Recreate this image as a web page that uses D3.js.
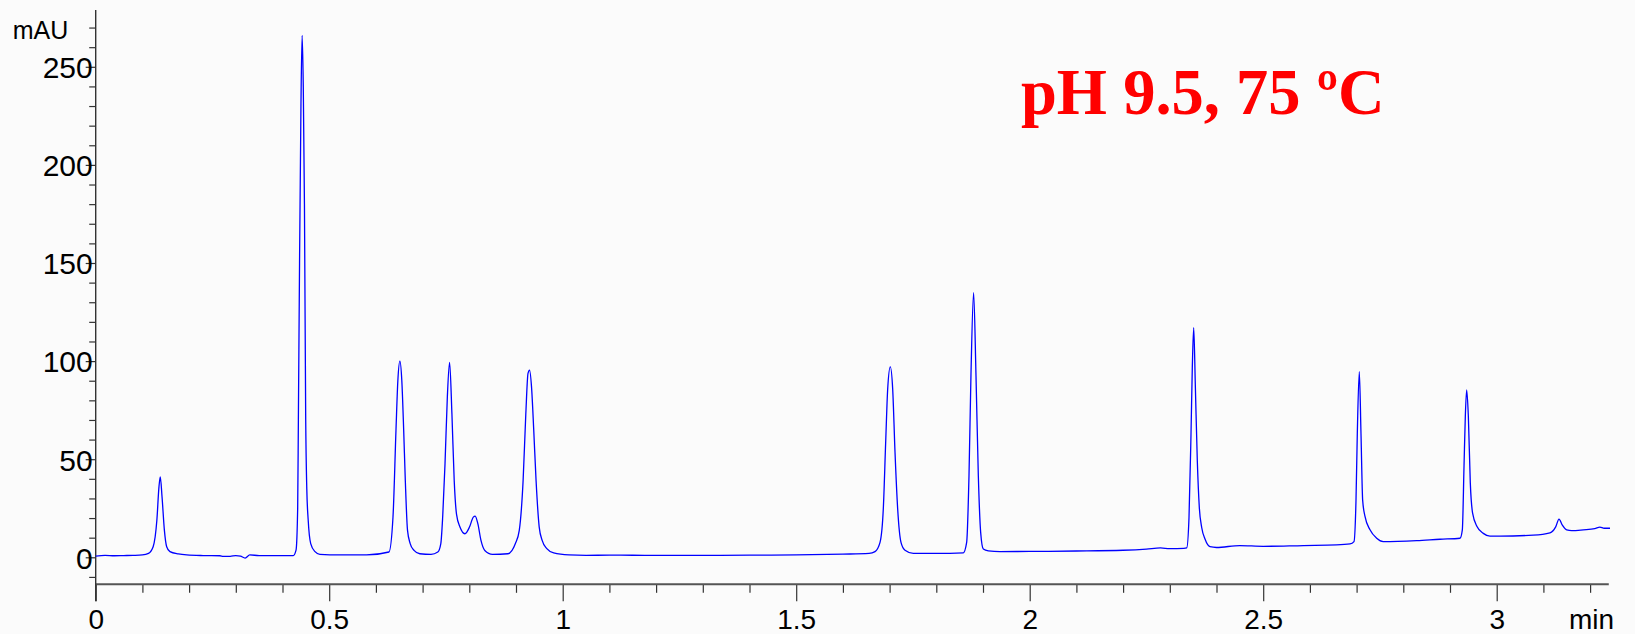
<!DOCTYPE html>
<html>
<head>
<meta charset="utf-8">
<script src="https://cdn.jsdelivr.net/npm/d3@7"></script>
<style>
  html, body { margin: 0; padding: 0; background: #fbfbfb; }
  svg { display: block; }
</style>
</head>
<body>
<script>
// ---------- data ----------
const timeMin = [
  0.000, 0.020, 0.040, 0.060, 0.080, 0.100, 0.113, 0.123, 0.131, 0.1355, 0.1383, 0.142, 0.147, 0.152, 0.159, 0.177, 0.195,
  0.230, 0.266, 0.273, 0.288, 0.300, 0.310, 0.320, 0.330, 0.350, 0.400, 0.423,
  0.429, 0.4325, 0.434, 0.4365, 0.4395, 0.442, 0.4445, 0.447, 0.4497, 0.452, 0.455, 0.4604, 0.4696, 0.480, 0.523, 0.580,
  0.628, 0.6366, 0.643, 0.647, 0.6514, 0.6555, 0.6595, 0.663, 0.6677, 0.6734, 0.6816, 0.694, 0.718,
  0.7326, 0.739, 0.743, 0.748, 0.753, 0.7578, 0.7628, 0.7677, 0.7726, 0.780, 0.7906,
  0.8004, 0.8086, 0.8126, 0.8184, 0.825, 0.8332, 0.8497, 0.8825,
  0.8987, 0.907, 0.9152, 0.921, 0.9257, 0.929, 0.9332, 0.938, 0.943, 0.9497, 0.956, 0.966, 0.9807, 1.0135,
  1.05, 1.10, 1.20, 1.30, 1.40, 1.50, 1.60, 1.656,
  1.6687, 1.6795, 1.6865, 1.6916, 1.6959, 1.7015, 1.7066, 1.7116, 1.7173, 1.7244, 1.733, 1.7507, 1.80,
  1.8578, 1.865, 1.870, 1.8742, 1.8799, 1.885, 1.890, 1.895, 1.9007, 1.9114, 1.9364,
  2.00, 2.10, 2.20, 2.25, 2.28, 2.30, 2.33, 2.3362,
  2.3411, 2.3454, 2.3482, 2.3512, 2.3546, 2.3589, 2.3632, 2.3683, 2.3754, 2.386, 2.40, 2.45, 2.50, 2.586, 2.657, 2.686,
  2.6944, 2.6987, 2.7015, 2.7058, 2.7094, 2.713, 2.718, 2.7287, 2.743, 2.757, 2.8287, 2.8786, 2.9214,
  2.9264, 2.930, 2.9328, 2.9357, 2.9393, 2.9435, 2.9484, 2.9578, 2.9713, 2.9856, 3.007, 3.078, 3.114,
  3.1263, 3.1334, 3.1406, 3.1499, 3.1606, 3.1855, 3.21, 3.221, 3.23, 3.2426
];
const signalMAU = [
  0.6, 1.0, 0.8, 0.9, 1.0, 1.2, 2.0, 5.4, 19, 36, 41, 31, 14, 5.4, 2.9, 1.7, 1.2,
  0.9, 0.8, 0.5, 0.5, 0.9, 0.6, -0.4, 1.2, 0.9, 0.9, 0.9,
  3.7, 25, 70, 150, 230, 266, 240, 180, 70, 35, 19, 7, 2.9, 1.5, 1.2, 1.2,
  2.7, 20.5, 64.8, 90, 100, 90, 64.8, 39, 13.7, 7, 3.5, 1.8, 1.5,
  2.7, 7, 20.5, 47.7, 81.8, 99.3, 73, 39, 22, 15.4, 12,
  15.4, 20.5, 21, 17, 8.6, 3.5, 1.5, 1.8,
  7, 13.7, 39, 73, 93.7, 95.4, 87, 64.8, 39, 15.4, 8.6, 4.4, 2.2, 1.2,
  1.0, 1.1, 1.0, 1.0, 1.1, 1.2, 1.6, 2.0,
  2.9, 7.6, 24.6, 58.6, 85.8, 97.1, 85.8, 53.5, 24.6, 7.6, 3.6, 2.0, 2.0,
  2.3, 7.6, 41.6, 92.6, 134.9, 92.6, 41.6, 12.7, 4.2, 3.3, 2.9,
  3.0, 3.2, 3.6, 4.2, 4.8, 4.4, 4.6, 4.8,
  20.2, 62.7, 96.7, 117, 88.2, 49.2, 25.4, 15.2, 9.3, 5.4, 5.0, 6.0, 5.6, 6.0, 6.3, 6.8,
  8, 29, 63, 94.6, 63, 29, 20.8, 14, 9.7, 8, 8.5, 9.2, 9.7,
  14, 46.3, 71.8, 85.3, 71.8, 37.8, 22.5, 15.7, 12.2, 10.8, 10.8, 11.3, 12.5,
  15.5, 19.5, 16.4, 14, 13.6, 14, 14.6, 15.4, 14.8, 14.8
];
const yMajorTicks = [0, 50, 100, 150, 200, 250];
const yMinorTicks = d3.range(-10, 271, 10).filter(v => v % 50 !== 0);
const xMajorTicks = [0, 0.5, 1, 1.5, 2, 2.5, 3];
const xTickLabels = ["0", "0.5", "1", "1.5", "2", "2.5", "3"];
const xMinorTicks = d3.range(0, 33).map(i => i / 10).filter(v => Math.abs(v * 2 - Math.round(v * 2)) > 1e-9);
const yUnit = "mAU";
const xUnit = "min";
const titleText = "pH 9.5, 75 \u00BAC";

// ---------- drawing ----------
const W = 1635, H = 634;
const svg = d3.select("body").append("svg").attr("width", W).attr("height", H);
svg.append("rect").attr("width", W).attr("height", H).attr("fill", "#fbfbfb");

const x = d3.scaleLinear().domain([0, 3.24]).range([95.7, 95.7 + 3.24 * 467]);
const y = d3.scaleLinear().domain([0, 250]).range([557.3, 66.8]);
const axisY = y(-13.76);
const yTop = y(279);
const fontSans = "'Liberation Sans', Arial, Helvetica, sans-serif";

// X axis
const gx = svg.append("g").attr("transform", `translate(0,${axisY})`);
gx.call(d3.axisBottom(x).tickValues(xMinorTicks).tickSize(8.5).tickFormat(""))
  .call(g => g.select(".domain").remove())
  .call(g => g.selectAll("line").attr("stroke", "#333").attr("stroke-width", 1.2));
const gx2 = svg.append("g").attr("transform", `translate(0,${axisY})`);
gx2.call(d3.axisBottom(x).tickValues(xMajorTicks).tickSize(17)
    .tickFormat((d, i) => xTickLabels[i]).tickPadding(10))
  .call(g => g.select(".domain").remove())
  .call(g => g.selectAll("line").attr("stroke", "#333").attr("stroke-width", 1.2))
  .call(g => g.selectAll("text").attr("font-family", fontSans).attr("font-size", 28)
      .attr("fill", "#000").attr("dy", 0).attr("y", 44.7));
svg.append("line").attr("x1", x(0)).attr("x2", x(3.24)).attr("y1", axisY).attr("y2", axisY)
  .attr("stroke", "#555").attr("stroke-width", 2);
svg.append("text").attr("x", 1614).attr("y", axisY + 44.7).attr("text-anchor", "end")
  .attr("font-family", fontSans).attr("font-size", 28).attr("fill", "#000").text(xUnit);

// Y axis
const gy = svg.append("g").attr("transform", `translate(${x(0)},0)`);
gy.call(d3.axisLeft(y).tickValues(yMinorTicks).tickSize(6.5).tickFormat(""))
  .call(g => g.select(".domain").remove())
  .call(g => g.selectAll("line").attr("stroke", "#333").attr("stroke-width", 1.2));
const gy2 = svg.append("g").attr("transform", `translate(${x(0)},0)`);
gy2.call(d3.axisLeft(y).tickValues(yMajorTicks).tickSize(10).tickFormat(d3.format("d")).tickPadding(0))
  .call(g => g.select(".domain").remove())
  .call(g => g.selectAll("line").attr("stroke", "#333").attr("stroke-width", 1.2))
  .call(g => g.selectAll("text").attr("font-family", fontSans).attr("font-size", 30)
      .attr("fill", "#000").attr("x", -3).attr("dy", "0.36em"));
svg.append("line").attr("x1", x(0)).attr("x2", x(0)).attr("y1", yTop).attr("y2", axisY + 17)
  .attr("stroke", "#333").attr("stroke-width", 1.4);
svg.append("text").attr("x", 12.7).attr("y", 39.3)
  .attr("font-family", fontSans).attr("font-size", 25).attr("fill", "#000").text(yUnit);

// Trace
const pts = timeMin.map((t, i) => [t, signalMAU[i]]);
const line = d3.line().x(d => x(d[0])).y(d => y(d[1])).curve(d3.curveMonotoneX);
svg.append("path").datum(pts).attr("d", line)
  .attr("fill", "none").attr("stroke", "#0000ff").attr("stroke-width", 1.3)
  .attr("stroke-linejoin", "round");

// Title
svg.append("text").attr("x", 1021).attr("y", 114)
  .attr("font-family", "'Liberation Serif', 'Times New Roman', serif")
  .attr("font-weight", "bold").attr("font-size", 64.5).attr("fill", "#ff0000").text(titleText);
</script>
</body>
</html>
